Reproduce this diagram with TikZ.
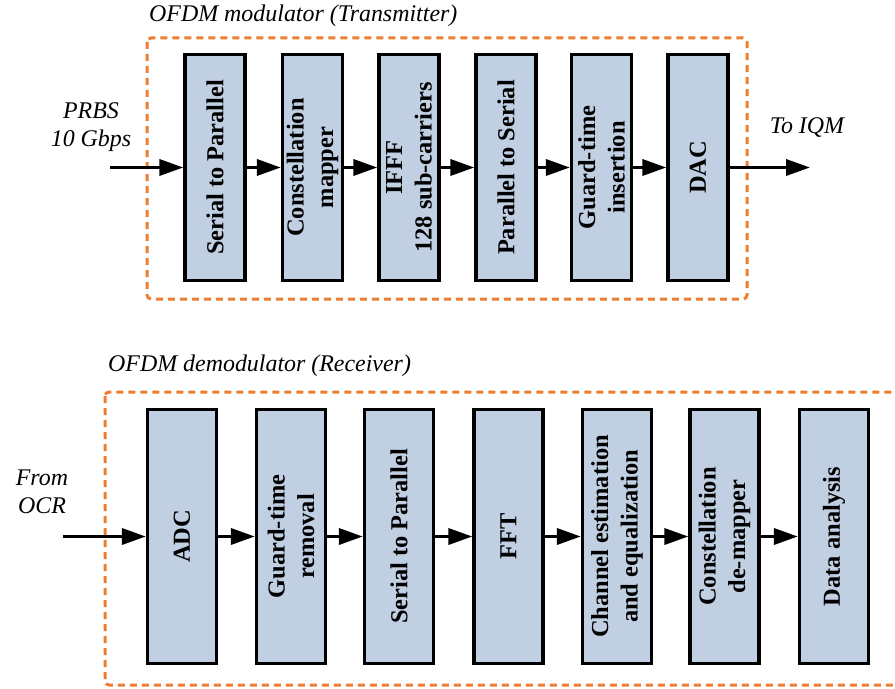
\documentclass[tikz,border=0pt]{standalone}
\usepackage{fontspec}
\setmainfont{Liberation Serif}
\usetikzlibrary{positioning, arrows.meta}
\usepackage{xcolor}
\definecolor{blockblue}{RGB}{192,207,226}
\definecolor{frameorange}{RGB}{237,125,49}

\begin{document}
\begin{tikzpicture}[x=1bp, y=-1bp,
    block/.style={draw, line width=3.3bp, fill=blockblue, rotate=90, align=center,
      inner sep=0pt, font=\fontsize{24.5}{29.5}\selectfont\bfseries},
    txblock/.style={block, minimum width=226bp, minimum height=60bp},
    rxblock/.style={block, minimum width=254bp, minimum height=69bp},
    flow/.style={line width=3.5bp, -{Triangle[length=24bp, width=16bp]}},
    frame/.style={frameorange, line width=3bp, dash pattern=on 7bp off 5bp, rounded corners=4bp},
    caption/.style={font=\fontsize{24}{28}\selectfont\itshape, align=center, inner sep=0pt}]
    \useasboundingbox (0,0) rectangle (895,689);
    % Transmitter frame
    \draw[frame] (147,38) rectangle (747,299);
    \node[caption, anchor=west] (txtitle) at (149,16) {OFDM modulator (Transmitter)};
    % Transmitter blocks
    \node[txblock] (sp)   at (215,167.5)   {Serial to Parallel};
    \node[txblock] (cm)   at (312.5,167.5) {Constellation\\mapper};
    \node[txblock] (ifft) at (409,167.5)   {IFFF\\128 sub-carriers};
    \node[txblock] (ps)   at (506,167.5)   {Parallel to Serial};
    \node[txblock] (gti)  at (601.5,167.5) {Guard-time\\insertion};
    \node[txblock] (dac)  at (698,167.5)   {DAC};
    % Transmitter input / output
    \node[caption] (prbs) at (91,127) {PRBS\\10 Gbps};
    \node[caption] (toiqm) at (807,128) {To IQM};
    \coordinate (txin) at (110,167.5);
    \coordinate (txout) at (810,167.5);
    \draw[flow] (txin) -- (sp);
    \foreach \a/\b in {sp/cm, cm/ifft, ifft/ps, ps/gti, gti/dac}
      \draw[flow] (\a) -- (\b);
    \draw[flow] (dac) -- (txout);
    % Receiver frame
    \draw[frame] (105,392) rectangle (912,685);
    \node[caption, anchor=west] (rxtitle) at (108,366) {OFDM demodulator (Receiver)};
    % Receiver blocks
    \node[rxblock] (adc)  at (182,536.5)   {ADC};
    \node[rxblock] (gtr)  at (291,536.5)   {Guard-time\\removal};
    \node[rxblock] (rsp)  at (399,536.5)   {Serial to Parallel};
    \node[rxblock] (fft)  at (508.5,536.5) {FFT};
    \node[rxblock] (che)  at (617,536.5)   {Channel estimation\\and equalization};
    \node[rxblock] (cdm)  at (724.5,536.5) {Constellation\\de-mapper};
    \node[rxblock] (data) at (834,536.5)   {Data analysis};
    % Receiver input
    \node[caption] (fromocr) at (42,492) {From\\OCR};
    \coordinate (rxin) at (63,536.5);
    \draw[flow] (rxin) -- (adc);
    \foreach \a/\b in {adc/gtr, gtr/rsp, rsp/fft, fft/che, che/cdm, cdm/data}
      \draw[flow] (\a) -- (\b);
  \end{tikzpicture}
\end{document}
